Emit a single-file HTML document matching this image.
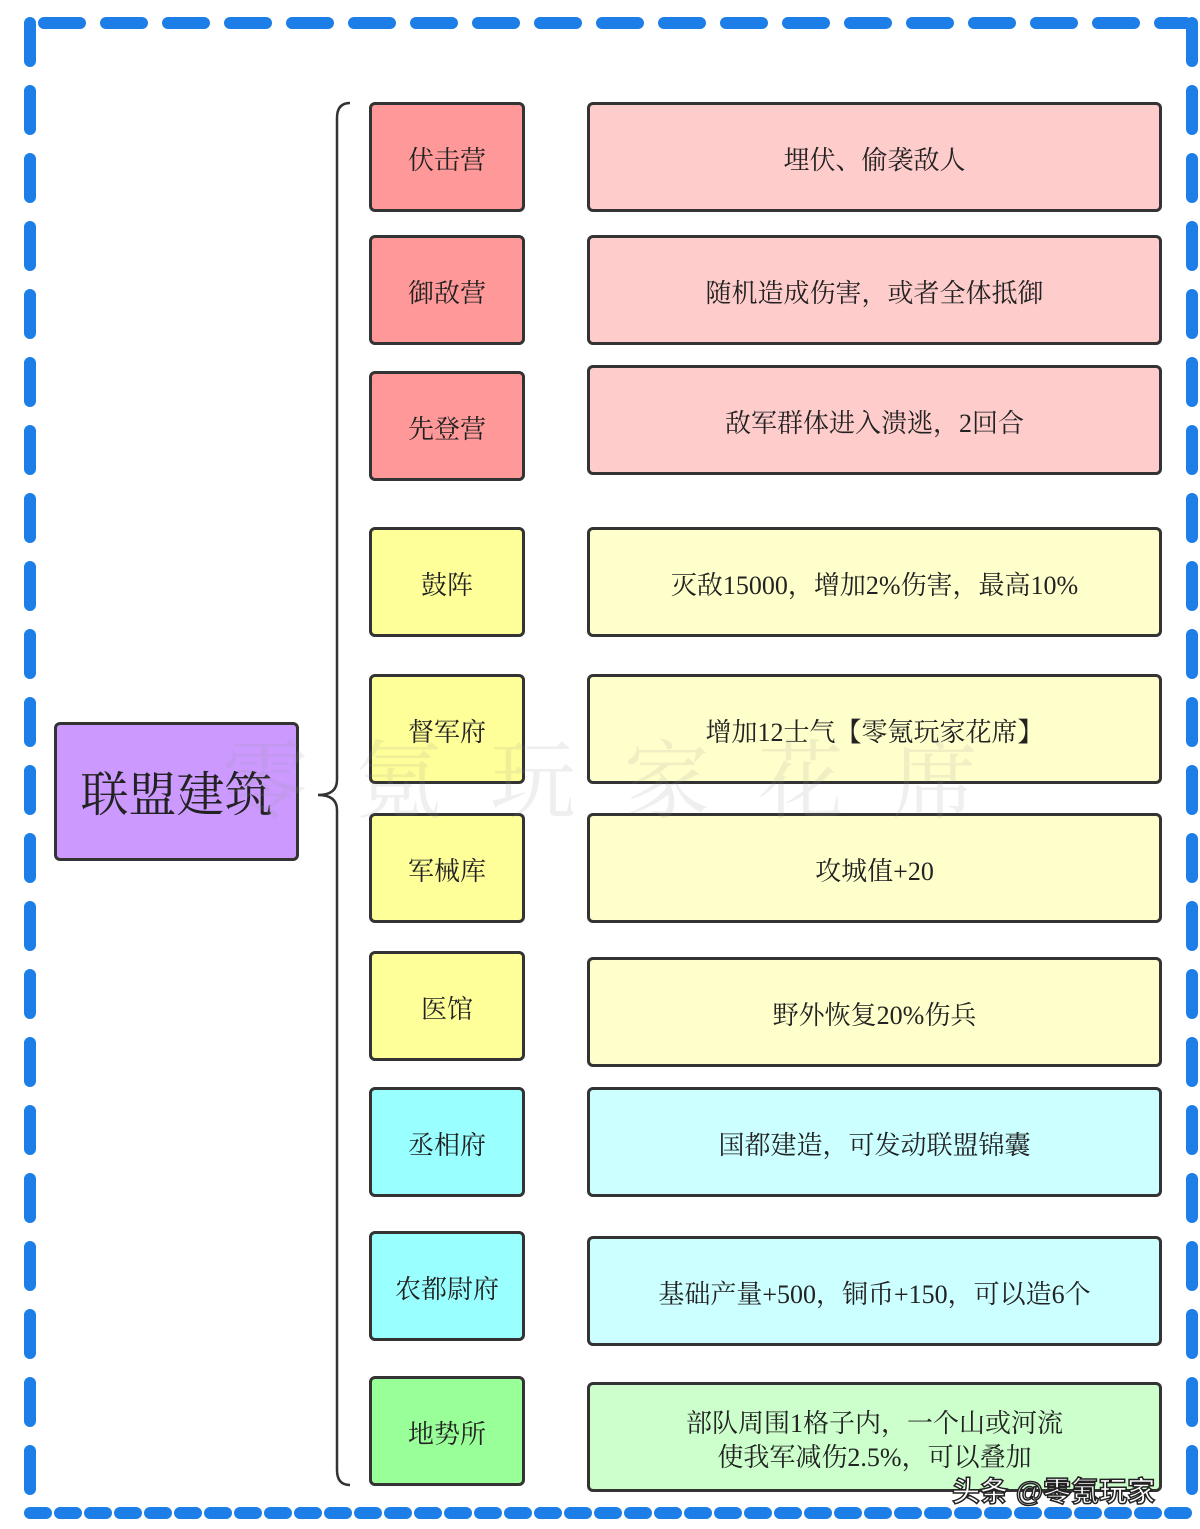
<!DOCTYPE html>
<html><head><meta charset="utf-8"><style>
body{margin:0;width:1200px;height:1529px;background:#fff;position:relative;overflow:hidden;font-family:"Liberation Serif","Noto Serif CJK SC",serif;color:#222}
.b{position:absolute;box-sizing:border-box;border:3px solid #333;border-radius:6px;display:flex;align-items:center;justify-content:center;text-align:center;font-size:26px;line-height:34px;padding-top:8px}
.r1{background:#ff9999}.r2{background:#ffcccc}
.y1{background:#ffff99}.y2{background:#ffffcc}
.c1{background:#99ffff}.c2{background:#ccffff}
.g1{background:#99ff99}.g2{background:#ccffcc}
svg{position:absolute;left:0;top:0}
</style></head><body>
<svg width="1200" height="1529">
<g stroke="#1e7ee8" stroke-width="12" stroke-linecap="round" fill="none">
<line x1="36" y1="23" x2="1186" y2="23" stroke-dasharray="36 26" stroke-dashoffset="-8"/>
<line x1="30" y1="23" x2="30" y2="1512" stroke-dasharray="38 30"/>
<line x1="1192" y1="23" x2="1192" y2="1512" stroke-dasharray="38 30"/>
<line x1="30" y1="1513" x2="1192" y2="1513" stroke-dasharray="16 14"/>
</g>
<path d="M350 103 Q337 103 337 118 L337 780 Q337 795 318 795 Q337 795 337 810 L337 1470 Q337 1485 350 1485" stroke="#333" stroke-width="2.5" fill="none"/>
</svg>
<div class="b" style="left:54px;top:722px;width:245px;height:139px;background:#cc99ff;font-size:48px;line-height:60px">联盟建筑</div>

<div class="b r1" style="left:369px;top:102px;width:156px;height:110px">伏击营</div>
<div class="b r2" style="left:587px;top:102px;width:575px;height:110px">埋伏、偷袭敌人</div>
<div class="b r1" style="left:369px;top:235px;width:156px;height:110px">御敌营</div>
<div class="b r2" style="left:587px;top:235px;width:575px;height:110px">随机造成伤害，或者全体抵御</div>
<div class="b r1" style="left:369px;top:371px;width:156px;height:110px">先登营</div>
<div class="b r2" style="left:587px;top:365px;width:575px;height:110px">敌军群体进入溃逃，2回合</div>

<div class="b y1" style="left:369px;top:527px;width:156px;height:110px">鼓阵</div>
<div class="b y2" style="left:587px;top:527px;width:575px;height:110px">灭敌15000，增加2%伤害，最高10%</div>
<div class="b y1" style="left:369px;top:674px;width:156px;height:110px">督军府</div>
<div class="b y2" style="left:587px;top:674px;width:575px;height:110px">增加12士气【零氪玩家花席】</div>
<div class="b y1" style="left:369px;top:813px;width:156px;height:110px">军械库</div>
<div class="b y2" style="left:587px;top:813px;width:575px;height:110px">攻城值+20</div>
<div class="b y1" style="left:369px;top:951px;width:156px;height:110px">医馆</div>
<div class="b y2" style="left:587px;top:957px;width:575px;height:110px">野外恢复20%伤兵</div>

<div class="b c1" style="left:369px;top:1087px;width:156px;height:110px">丞相府</div>
<div class="b c2" style="left:587px;top:1087px;width:575px;height:110px">国都建造，可发动联盟锦囊</div>
<div class="b c1" style="left:369px;top:1231px;width:156px;height:110px">农都尉府</div>
<div class="b c2" style="left:587px;top:1236px;width:575px;height:110px">基础产量+500，铜币+150，可以造6个</div>

<div class="b g1" style="left:369px;top:1376px;width:156px;height:110px">地势所</div>
<div class="b g2" style="left:587px;top:1382px;width:575px;height:110px">部队周围1格子内，一个山或河流<br>使我军减伤2.5%，可以叠加</div>

<div style="position:absolute;left:222px;top:712px;font-size:86px;color:rgba(150,150,150,0.15);letter-spacing:48px;white-space:nowrap">零氪玩家花席</div>
<div style="position:absolute;left:952px;top:1470px;font-family:'Liberation Sans','Noto Sans CJK SC',sans-serif;font-size:28px;color:#fff;-webkit-text-stroke:1.5px #222;font-weight:bold">头条 @零氪玩家</div>
</body></html>
